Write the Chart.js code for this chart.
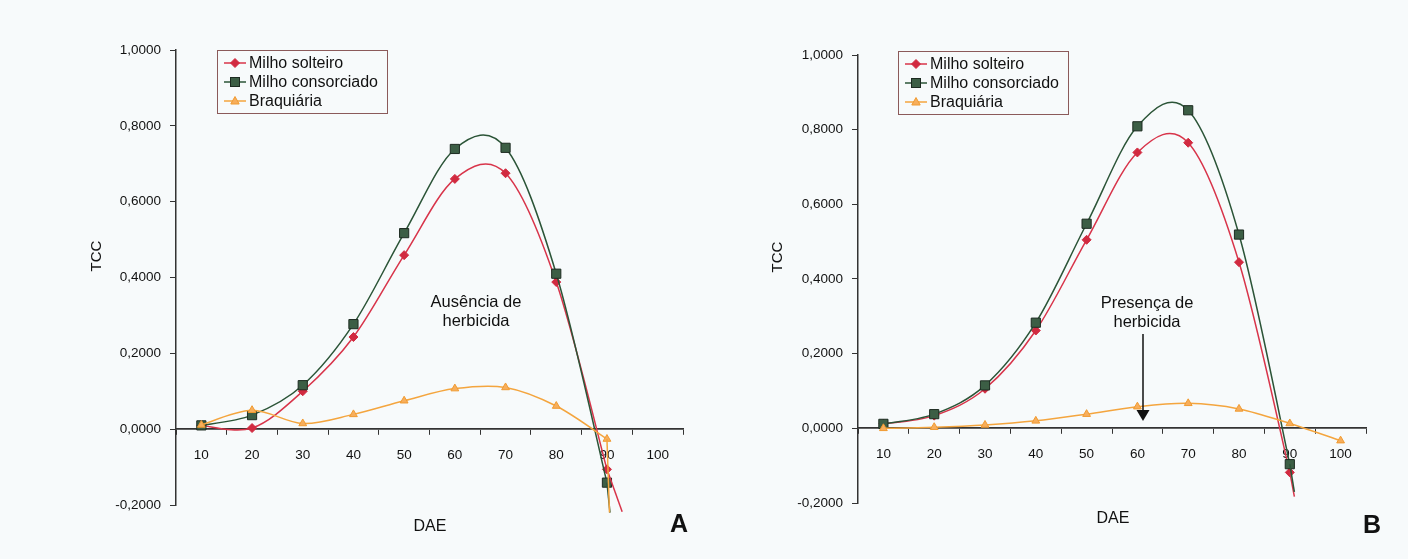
<!DOCTYPE html>
<html><head><meta charset="utf-8">
<script src="https://cdn.jsdelivr.net/npm/chart.js@4.4.0/dist/chart.umd.min.js"></script>
<style>
html,body{margin:0;padding:0;background:#f7fafb;}
#wrap{position:relative;width:1408px;height:559px;overflow:hidden;background:#f7fafb;}
canvas{position:absolute;top:0;}
</style></head><body>
<div id="wrap">
<canvas id="cA" width="704" height="559" style="left:0px"></canvas>
<canvas id="cB" width="704" height="559" style="left:704px"></canvas>
</div>
<script>
// ---- data ----
const dae = [10, 20, 30, 40, 50, 60, 70, 80, 90, 100];
const yTickValues = [-0.2, 0, 0.2, 0.4, 0.6, 0.8, 1.0];
const seriesNames = ['Milho solteiro', 'Milho consorciado', 'Braquiária'];

// Gráfico A – Ausência de herbicida
const solteiroA    = [0.010, 0.003, 0.100, 0.243, 0.459, 0.660, 0.675, 0.388, -0.106];
const consorciadoA = [0.010, 0.037, 0.116, 0.277, 0.517, 0.739, 0.742, 0.410, -0.141];
const braquiariaA  = [0.011, 0.050, 0.015, 0.039, 0.075, 0.107, 0.110, 0.061, -0.026];
// line ends visible below the last marker (x, y)
const tailSolteiroA    = [93.0, -0.218];
const tailConsorciadoA = [90.6, -0.220];
const tailBraquiariaA  = [90.5, -0.220];

// Gráfico B – Presença de herbicida
const solteiroB    = [0.012, 0.034, 0.106, 0.262, 0.505, 0.739, 0.765, 0.445, -0.118];
const consorciadoB = [0.012, 0.038, 0.115, 0.283, 0.548, 0.809, 0.852, 0.519, -0.096];
const braquiariaB  = [0.000, 0.003, 0.009, 0.020, 0.038, 0.058, 0.067, 0.052, 0.013, -0.033];
const tailSolteiroB    = [90.9, -0.183];
const tailConsorciadoB = [90.9, -0.170];

// ---- styles ----
const FONT = '"Liberation Sans", Arial, sans-serif';
const AXIS = '#333333';
const RED = '#d8344a', RED_PT = '#d12a40';
const GREEN = '#2b5437', GREEN_PT = '#3c5e45', GREEN_BD = '#1d2b21';
const ORANGE = '#f4a53e', ORANGE_PT = '#f7ae5c';

function pts(vals) { return vals.map((v, i) => ({ x: dae[i], y: v })); }
function tail(vals, t) { return [{ x: dae[vals.length - 1], y: vals[vals.length - 1] }, { x: t[0], y: t[1] }]; }

function mainDs(data, kind) {
  const base = { data: pts(data), tension: 0.3, smooth: true, borderWidth: 1.5, clip: false };
  if (kind === 0) return Object.assign(base, { borderColor: RED, backgroundColor: RED_PT, pointBackgroundColor: RED_PT, pointBorderColor: RED_PT, pointStyle: 'rectRot', pointRadius: 4.5, pointBorderWidth: 1 });
  if (kind === 1) return Object.assign(base, { borderColor: GREEN, backgroundColor: GREEN_PT, pointBackgroundColor: GREEN_PT, pointBorderColor: GREEN_BD, pointStyle: 'rect', pointRadius: 6.5, pointBorderWidth: 1 });
  return Object.assign(base, { borderColor: ORANGE, backgroundColor: ORANGE_PT, pointBackgroundColor: ORANGE_PT, pointBorderColor: '#f09a30', pointStyle: 'triangle', pointRadius: 4.5, pointBorderWidth: 1 });
}
function tailDs(data, t, color) {
  return { data: tail(data, t), borderColor: color, borderWidth: 1.5, pointRadius: 0, tension: 0, clip: false };
}

// Excel-like smoothing (uniform Catmull-Rom in pixel space)
const smoothPlugin = {
  id: 'excelSmooth',
  beforeDatasetDraw(chart, args) {
    const ds = chart.data.datasets[args.index];
    if (!ds.smooth) return;
    const meta = args.meta;
    const line = meta.dataset;
    if (line.updateControlPoints) line.updateControlPoints(chart.chartArea, 'x');
    const p = meta.data;
    const n = p.length;
    for (let i = 0; i < n; i++) {
      const prev = p[Math.max(0, i - 1)], next = p[Math.min(n - 1, i + 1)], cur = p[i];
      const dx = (next.x - prev.x) / 6, dy = (next.y - prev.y) / 6;
      cur.cp1x = cur.x - dx; cur.cp1y = cur.y - dy;
      cur.cp2x = cur.x + dx; cur.cp2y = cur.y + dy;
    }
    line._pointsUpdated = true;
    line._path = undefined;
  }
};

function drawMarker(ctx, kind, x, y) {
  ctx.save();
  ctx.lineWidth = 1;
  if (kind === 0) {
    ctx.fillStyle = RED_PT; ctx.strokeStyle = RED_PT;
    ctx.beginPath(); ctx.moveTo(x, y - 4.5); ctx.lineTo(x + 4.5, y); ctx.lineTo(x, y + 4.5); ctx.lineTo(x - 4.5, y); ctx.closePath(); ctx.fill(); ctx.stroke();
  } else if (kind === 1) {
    ctx.fillStyle = GREEN_PT; ctx.strokeStyle = GREEN_BD;
    ctx.fillRect(x - 4.5, y - 4.5, 9, 9); ctx.strokeRect(x - 4.5, y - 4.5, 9, 9);
  } else {
    ctx.fillStyle = ORANGE_PT; ctx.strokeStyle = '#f09a30';
    ctx.beginPath(); ctx.moveTo(x, y - 4.5); ctx.lineTo(x + 4.2, y + 3); ctx.lineTo(x - 4.2, y + 3); ctx.closePath(); ctx.fill(); ctx.stroke();
  }
  ctx.restore();
}

function overlayPlugin(o) {
  return {
    id: 'overlay' + o.letter,
    afterDraw(chart) {
      const ctx = chart.ctx;
      ctx.save();
      const L = o.legend;
      ctx.strokeStyle = '#8b5a5a'; ctx.lineWidth = 1;
      ctx.strokeRect(L.x + 0.5, L.y + 0.5, L.w, L.h);
      const colors = [RED, GREEN, ORANGE];
      ctx.font = '16px ' + FONT; ctx.textBaseline = 'middle'; ctx.textAlign = 'left'; ctx.fillStyle = '#111';
      seriesNames.forEach((name, i) => {
        const yy = L.y + 13 + i * 19;
        ctx.strokeStyle = colors[i]; ctx.lineWidth = 1.5;
        ctx.beginPath(); ctx.moveTo(L.x + 7, yy); ctx.lineTo(L.x + 29, yy); ctx.stroke();
        drawMarker(ctx, i, L.x + 18, yy);
        ctx.fillStyle = '#111';
        ctx.fillText(name, L.x + 32, yy + 1);
      });
      ctx.font = '16.5px ' + FONT; ctx.textAlign = 'center'; ctx.fillStyle = '#111';
      ctx.fillText(o.note[0], o.noteX, o.noteY);
      ctx.fillText(o.note[1], o.noteX, o.noteY + 19);
      if (o.arrow) {
        const a = o.arrow;
        ctx.strokeStyle = '#111'; ctx.lineWidth = 1.5;
        ctx.beginPath(); ctx.moveTo(a.x, a.y1); ctx.lineTo(a.x, a.y2 - 10); ctx.stroke();
        ctx.fillStyle = '#111';
        ctx.beginPath(); ctx.moveTo(a.x - 6.5, a.y2 - 11); ctx.lineTo(a.x + 6.5, a.y2 - 11); ctx.lineTo(a.x, a.y2); ctx.closePath(); ctx.fill();
      }
      ctx.font = '16px ' + FONT; ctx.fillStyle = '#111'; ctx.textAlign = 'center';
      ctx.fillText('DAE', o.daeX, o.daeY);
      ctx.font = '15px ' + FONT;
      ctx.save(); ctx.translate(o.tccX, o.tccY); ctx.rotate(-Math.PI / 2); ctx.fillText('TCC', 0, 0); ctx.restore();
      ctx.font = 'bold 25px ' + FONT; ctx.fillStyle = '#111';
      ctx.fillText(o.letter, o.letterX, o.letterY);
      ctx.restore();
    }
  };
}

function makeChart(id, datasets, pad, yWidth, o) {
  return new Chart(document.getElementById(id), {
    type: 'line',
    data: { datasets: datasets },
    options: {
      responsive: false, animation: false,
      layout: { padding: pad },
      plugins: { legend: { display: false }, tooltip: { enabled: false } },
      scales: {
        x: {
          type: 'linear', min: 5, max: 105, position: { y: 0 },
          afterFit(s) { s.height = 0; },
          afterBuildTicks(s) { s.ticks = []; for (let v = 5; v <= 105; v += 5) s.ticks.push({ value: v }); },
          ticks: { autoSkip: false, maxRotation: 0, padding: 13, color: '#111', font: { family: FONT, size: 13.5 },
            callback: (v) => (dae.includes(v) ? String(v) : '') },
          grid: { drawOnChartArea: false, drawTicks: true, tickLength: 5,
            tickColor: (c) => (c.tick && c.tick.value % 10 === 5 ? AXIS : 'rgba(0,0,0,0)'), tickWidth: 1 },
          border: { display: true, color: AXIS, width: 1.8 }
        },
        y: {
          min: -0.2, max: 1.0,
          afterFit(s) { s.width = yWidth; },
          afterBuildTicks(s) { s.ticks = yTickValues.map(v => ({ value: v })); },
          ticks: { padding: 9, color: '#111', font: { family: FONT, size: 13.5 },
            callback: (v) => v.toFixed(4).replace('.', ',').replace('-0,0000', '0,0000') },
          grid: { drawOnChartArea: false, drawTicks: true, tickLength: 6, tickColor: AXIS },
          border: { display: true, color: AXIS, width: 1.5 }
        }
      }
    },
    plugins: [smoothPlugin, overlayPlugin(o)]
  });
}

makeChart('cA', [
  tailDs(braquiariaA, tailBraquiariaA, ORANGE),
  tailDs(consorciadoA, tailConsorciadoA, GREEN),
  tailDs(solteiroA, tailSolteiroA, RED),
  mainDs(braquiariaA, 2),
  mainDs(consorciadoA, 1),
  mainDs(solteiroA, 0)
], { left: 0, top: 50, right: 21, bottom: 54 }, 176, {
  letter: 'A', letterX: 679, letterY: 525,
  legend: { x: 217, y: 50, w: 170, h: 63 },
  note: ['Ausência de', 'herbicida'], noteX: 476, noteY: 302,
  daeX: 430, daeY: 527, tccX: 97, tccY: 256
});

makeChart('cB', [
  tailDs(consorciadoB, tailConsorciadoB, GREEN),
  tailDs(solteiroB, tailSolteiroB, RED),
  mainDs(braquiariaB, 2),
  mainDs(consorciadoB, 1),
  mainDs(solteiroB, 0)
], { left: 0, top: 55, right: 42, bottom: 56 }, 154, {
  letter: 'B', letterX: 668, letterY: 526,
  legend: { x: 194, y: 51, w: 170, h: 63 },
  note: ['Presença de', 'herbicida'], noteX: 443, noteY: 303,
  arrow: { x: 439, y1: 334, y2: 421 },
  daeX: 409, daeY: 519, tccX: 74, tccY: 257
});
</script>
</body></html>
